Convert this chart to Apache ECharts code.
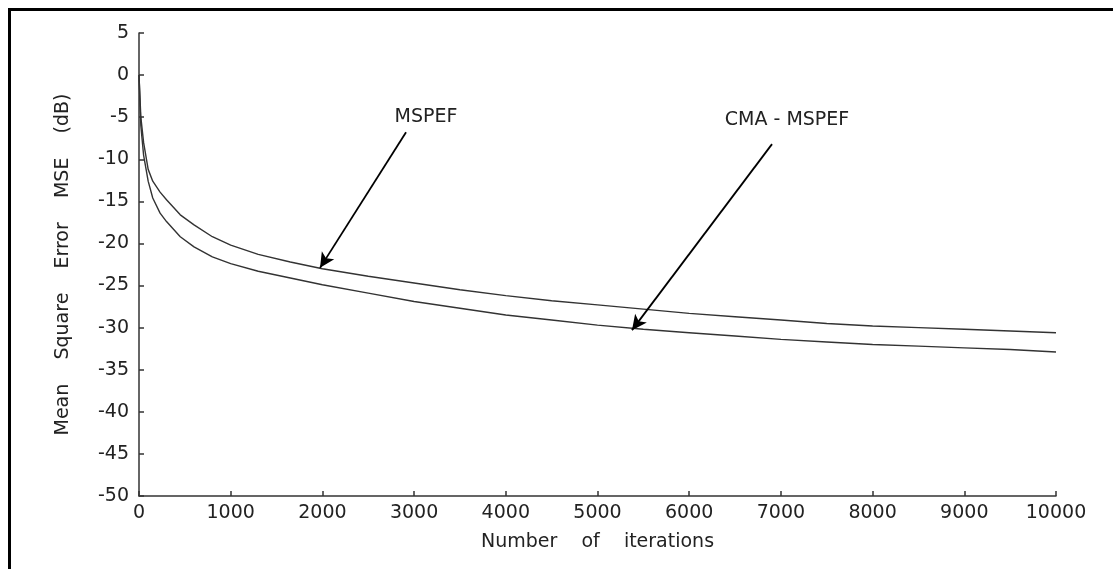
<!DOCTYPE html>
<html>
<head>
<meta charset="utf-8">
<script src="https://cdn.jsdelivr.net/npm/echarts@6/dist/echarts.min.js"></script>
<style>
html,body{margin:0;padding:0;background:#fff;}
#chart{width:1113px;height:569px;}
</style>
</head>
<body>
<div id="chart"></div>
<script>
// Data
const iterations = [0, 20, 50, 100, 150, 230, 300, 450, 600, 800, 1000, 1300, 1650, 2000, 2500, 3000, 3500, 4000, 4500, 5000, 5500, 6000, 6500, 7000, 7500, 8000, 8500, 9000, 9500, 10000];
const mspef =      [0, -5, -8, -11.2, -12.6, -13.9, -14.8, -16.6, -17.8, -19.2, -20.2, -21.3, -22.2, -23.0, -23.9, -24.7, -25.5, -26.2, -26.8, -27.3, -27.8, -28.3, -28.7, -29.1, -29.5, -29.8, -30.0, -30.2, -30.4, -30.6];
const cmaMspef =   [0, -6, -9.5, -12.6, -14.6, -16.4, -17.4, -19.2, -20.4, -21.6, -22.4, -23.3, -24.1, -24.9, -25.9, -26.9, -27.7, -28.5, -29.1, -29.7, -30.2, -30.6, -31.0, -31.4, -31.7, -32.0, -32.2, -32.4, -32.6, -32.9];

// Annotations (data coordinates)
const labelMspef = { text: 'MSPEF', at: [3130, -4.95] };
const labelCma = { text: 'CMA - MSPEF', at: [7067, -5.4] };
const arrowMspef = [[2912, -6.8], [1974, -22.9]];
const arrowCma = [[6903, -8.2], [5376, -30.3]];

const FONT = 'DejaVu Sans';
const TXT = '#222';

const chart = echarts.init(document.getElementById('chart'), null, {renderer: 'canvas'});

function pairs(xs, ys) { return xs.map((x, i) => [x, ys[i]]); }

const option = {
  backgroundColor: '#fff',
  animation: false,
  grid: { left: 139, right: 57, top: 33, bottom: 73, containLabel: false, outerBoundsMode: 'none' },
  xAxis: {
    type: 'value', min: 0, max: 10000, interval: 1000,
    name: 'Number    of    iterations', nameLocation: 'middle', nameGap: 37,
    nameTextStyle: { fontFamily: FONT, fontSize: 19, color: TXT },
    axisLine: { show: true, onZero: false, lineStyle: { color: '#333', width: 1.5 } },
    axisTick: { show: true, inside: true, length: 5, lineStyle: { color: '#333', width: 1.5 } },
    axisLabel: { fontFamily: FONT, fontSize: 19, color: TXT, margin: 8, formatter: v => String(v) },
    splitLine: { show: false }
  },
  yAxis: {
    type: 'value', min: -50, max: 5, interval: 5,
    name: 'Mean    Square    Error    MSE    (dB)', nameLocation: 'middle', nameGap: 66, nameRotate: 90,
    nameTextStyle: { fontFamily: FONT, fontSize: 19, color: TXT },
    axisLine: { show: true, onZero: false, lineStyle: { color: '#333', width: 1.5 } },
    axisTick: { show: true, inside: true, length: 5, lineStyle: { color: '#333', width: 1.5 } },
    axisLabel: { fontFamily: FONT, fontSize: 19, color: TXT, margin: 10, formatter: v => String(v) },
    splitLine: { show: false }
  },
  series: [
    {
      name: 'MSPEF', type: 'line', data: pairs(iterations, mspef),
      showSymbol: false, symbol: 'none', smooth: false,
      lineStyle: { color: '#333', width: 1.4 },
      markLine: {
        silent: true, symbol: ['none', 'arrow'], symbolSize: [11, 15],
        lineStyle: { color: '#000', width: 1.8, type: 'solid' },
        itemStyle: { color: '#000' },
        label: { show: false },
        data: [[{ coord: arrowMspef[0] }, { coord: arrowMspef[1] }]]
      },
      markPoint: {
        silent: true, symbol: 'circle', symbolSize: 0,
        label: { show: true, position: 'inside', fontFamily: FONT, fontSize: 19, color: TXT, formatter: p => p.name },
        data: [{ name: labelMspef.text, coord: labelMspef.at }]
      }
    },
    {
      name: 'CMA - MSPEF', type: 'line', data: pairs(iterations, cmaMspef),
      showSymbol: false, symbol: 'none', smooth: false,
      lineStyle: { color: '#333', width: 1.4 },
      markLine: {
        silent: true, symbol: ['none', 'arrow'], symbolSize: [11, 15],
        lineStyle: { color: '#000', width: 1.8, type: 'solid' },
        itemStyle: { color: '#000' },
        label: { show: false },
        data: [[{ coord: arrowCma[0] }, { coord: arrowCma[1] }]]
      },
      markPoint: {
        silent: true, symbol: 'circle', symbolSize: 0,
        label: { show: true, position: 'inside', fontFamily: FONT, fontSize: 19, color: TXT, formatter: p => p.name },
        data: [{ name: labelCma.text, coord: labelCma.at }]
      }
    }
  ],
  graphic: [
    { type: 'line', shape: { x1: 9, y1: 9.5, x2: 1113, y2: 9.5 }, style: { stroke: '#000', lineWidth: 3 }, silent: true },
    { type: 'line', shape: { x1: 9.5, y1: 8, x2: 9.5, y2: 569 }, style: { stroke: '#000', lineWidth: 3 }, silent: true }
  ]
};
chart.setOption(option);
</script>
</body>
</html>
